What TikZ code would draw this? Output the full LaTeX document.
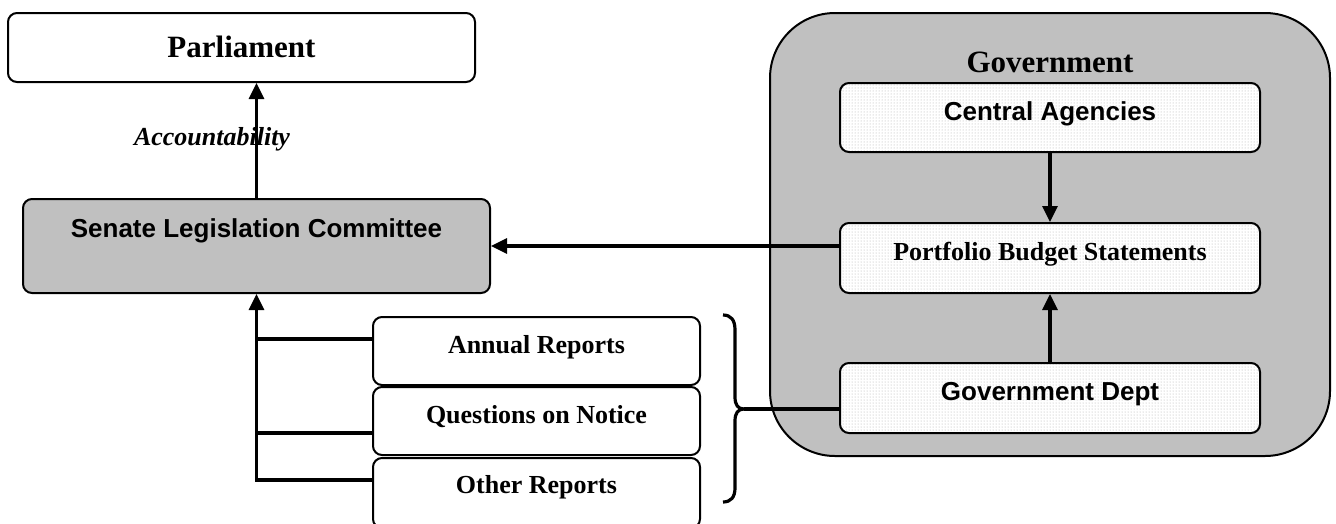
\documentclass[tikz,border=0pt]{standalone}
\usepackage{fontspec}
\setmainfont{Liberation Serif}
\setsansfont{Liberation Sans}
\usetikzlibrary{arrows.meta,patterns}
\definecolor{boxgray}{HTML}{C0C0C0}
\begin{document}
\begin{tikzpicture}[x=1pt,y=-1pt,
  box/.style={draw, line width=2pt, rounded corners=9pt, inner sep=0pt, fill=white},
  dotbox/.style={draw, line width=2pt, rounded corners=9pt, inner sep=0pt,
    preaction={fill=white}, pattern=dots, pattern color=gray!65},
  conn/.style={line width=3.2pt},
  arr/.style={conn, -{Triangle[length=16pt,width=15pt]}},
  serif/.style={anchor=base, inner sep=0pt, font=\fontsize{26}{30}\selectfont\bfseries},
  sans/.style={anchor=base, inner sep=0pt, font=\fontsize{26}{30}\selectfont\sffamily\bfseries},
  big/.style={anchor=base, inner sep=0pt, font=\fontsize{31}{36}\selectfont\bfseries}]
\useasboundingbox (0,0) rectangle (1336,523);
\clip (0,0) rectangle (1336,523);

% Government container
\node[draw, line width=2pt, fill=boxgray, rounded corners=65pt, inner sep=0pt,
  minimum width=560pt, minimum height=443pt] (gov) at (1050,234.5) {};
\node[big] (govt) at ([yshift=-60pt]gov.north) {Government};

% Boxes
\node[box, minimum width=467pt, minimum height=69pt] (parl) at (241.5,47.5) {};
\node[big] (parlt) at ([yshift=-9.5pt]parl.center) {Parliament};

\node[box, fill=boxgray, minimum width=467pt, minimum height=94pt] (senate) at (256.5,246) {};
\node[sans] (senatet) at ([yshift=9pt]senate.center) {Senate Legislation Committee};

\node[dotbox, minimum width=420pt, minimum height=69pt] (central) at (1050,117.5) {};
\node[sans] (centralt) at ([yshift=-2.5pt]central.center) {Central Agencies};

\node[dotbox, minimum width=420pt, minimum height=70pt] (pbs) at (1050,258) {};
\node[serif] (pbst) at ([yshift=-2pt]pbs.center) {Portfolio Budget Statements};

\node[dotbox, minimum width=420pt, minimum height=70pt] (dept) at (1050,398) {};
\node[sans] (deptt) at ([yshift=-2pt]dept.center) {Government Dept};

\node[box, minimum width=327pt, minimum height=68pt] (annual) at (536.5,351) {};
\node[serif] (annualt) at ([yshift=-2pt]annual.center) {Annual Reports};

\node[box, minimum width=327pt, minimum height=68pt] (qon) at (536.5,421) {};
\node[serif] (qont) at ([yshift=-2pt]qon.center) {Questions on Notice};

\node[box, minimum width=327pt, minimum height=70pt] (other) at (536.5,493) {};
\node[serif] (othert) at (other.center) {Other Reports};

% Accountability
\draw[arr] (senate.north) -- (senate.north |- parl.south);
\node[anchor=base, inner sep=0pt, font=\fontsize{26}{30}\selectfont\bfseries\itshape] (acc) at (212,145) {Accountability};

% Government internal arrows
\draw[arr] (central.south) -- (pbs.north);
\draw[arr] (dept.north) -- (pbs.south);

% PBS to Senate
\coordinate (p1) at ([yshift=12pt]pbs.west);
\draw[arr] (p1) -- (p1 -| senate.east);

% Reports to Senate
\coordinate (a1) at ([yshift=12pt]annual.west);
\coordinate (q1) at ([yshift=-12pt]qon.west);
\coordinate (o1) at ([yshift=13pt]other.west);
\draw[conn] (a1) -- (a1 -| senate.south);
\draw[conn] (q1) -- (q1 -| senate.south);
\draw[arr] (o1) -| (senate.south);

% Brace
\coordinate (btip) at (744,409);
\draw[line width=3.2pt] (723,315) .. controls (731,315) and (735,320) .. (735,330)
  -- (735,397) .. controls (735,405) and (738,409) .. (btip)
  .. controls (738,409) and (735,413) .. (735,421)
  -- (735,488) .. controls (735,497) and (731,502) .. (723,502);
\draw[conn] (btip) -- (btip -| dept.west);
\end{tikzpicture}
\end{document}
